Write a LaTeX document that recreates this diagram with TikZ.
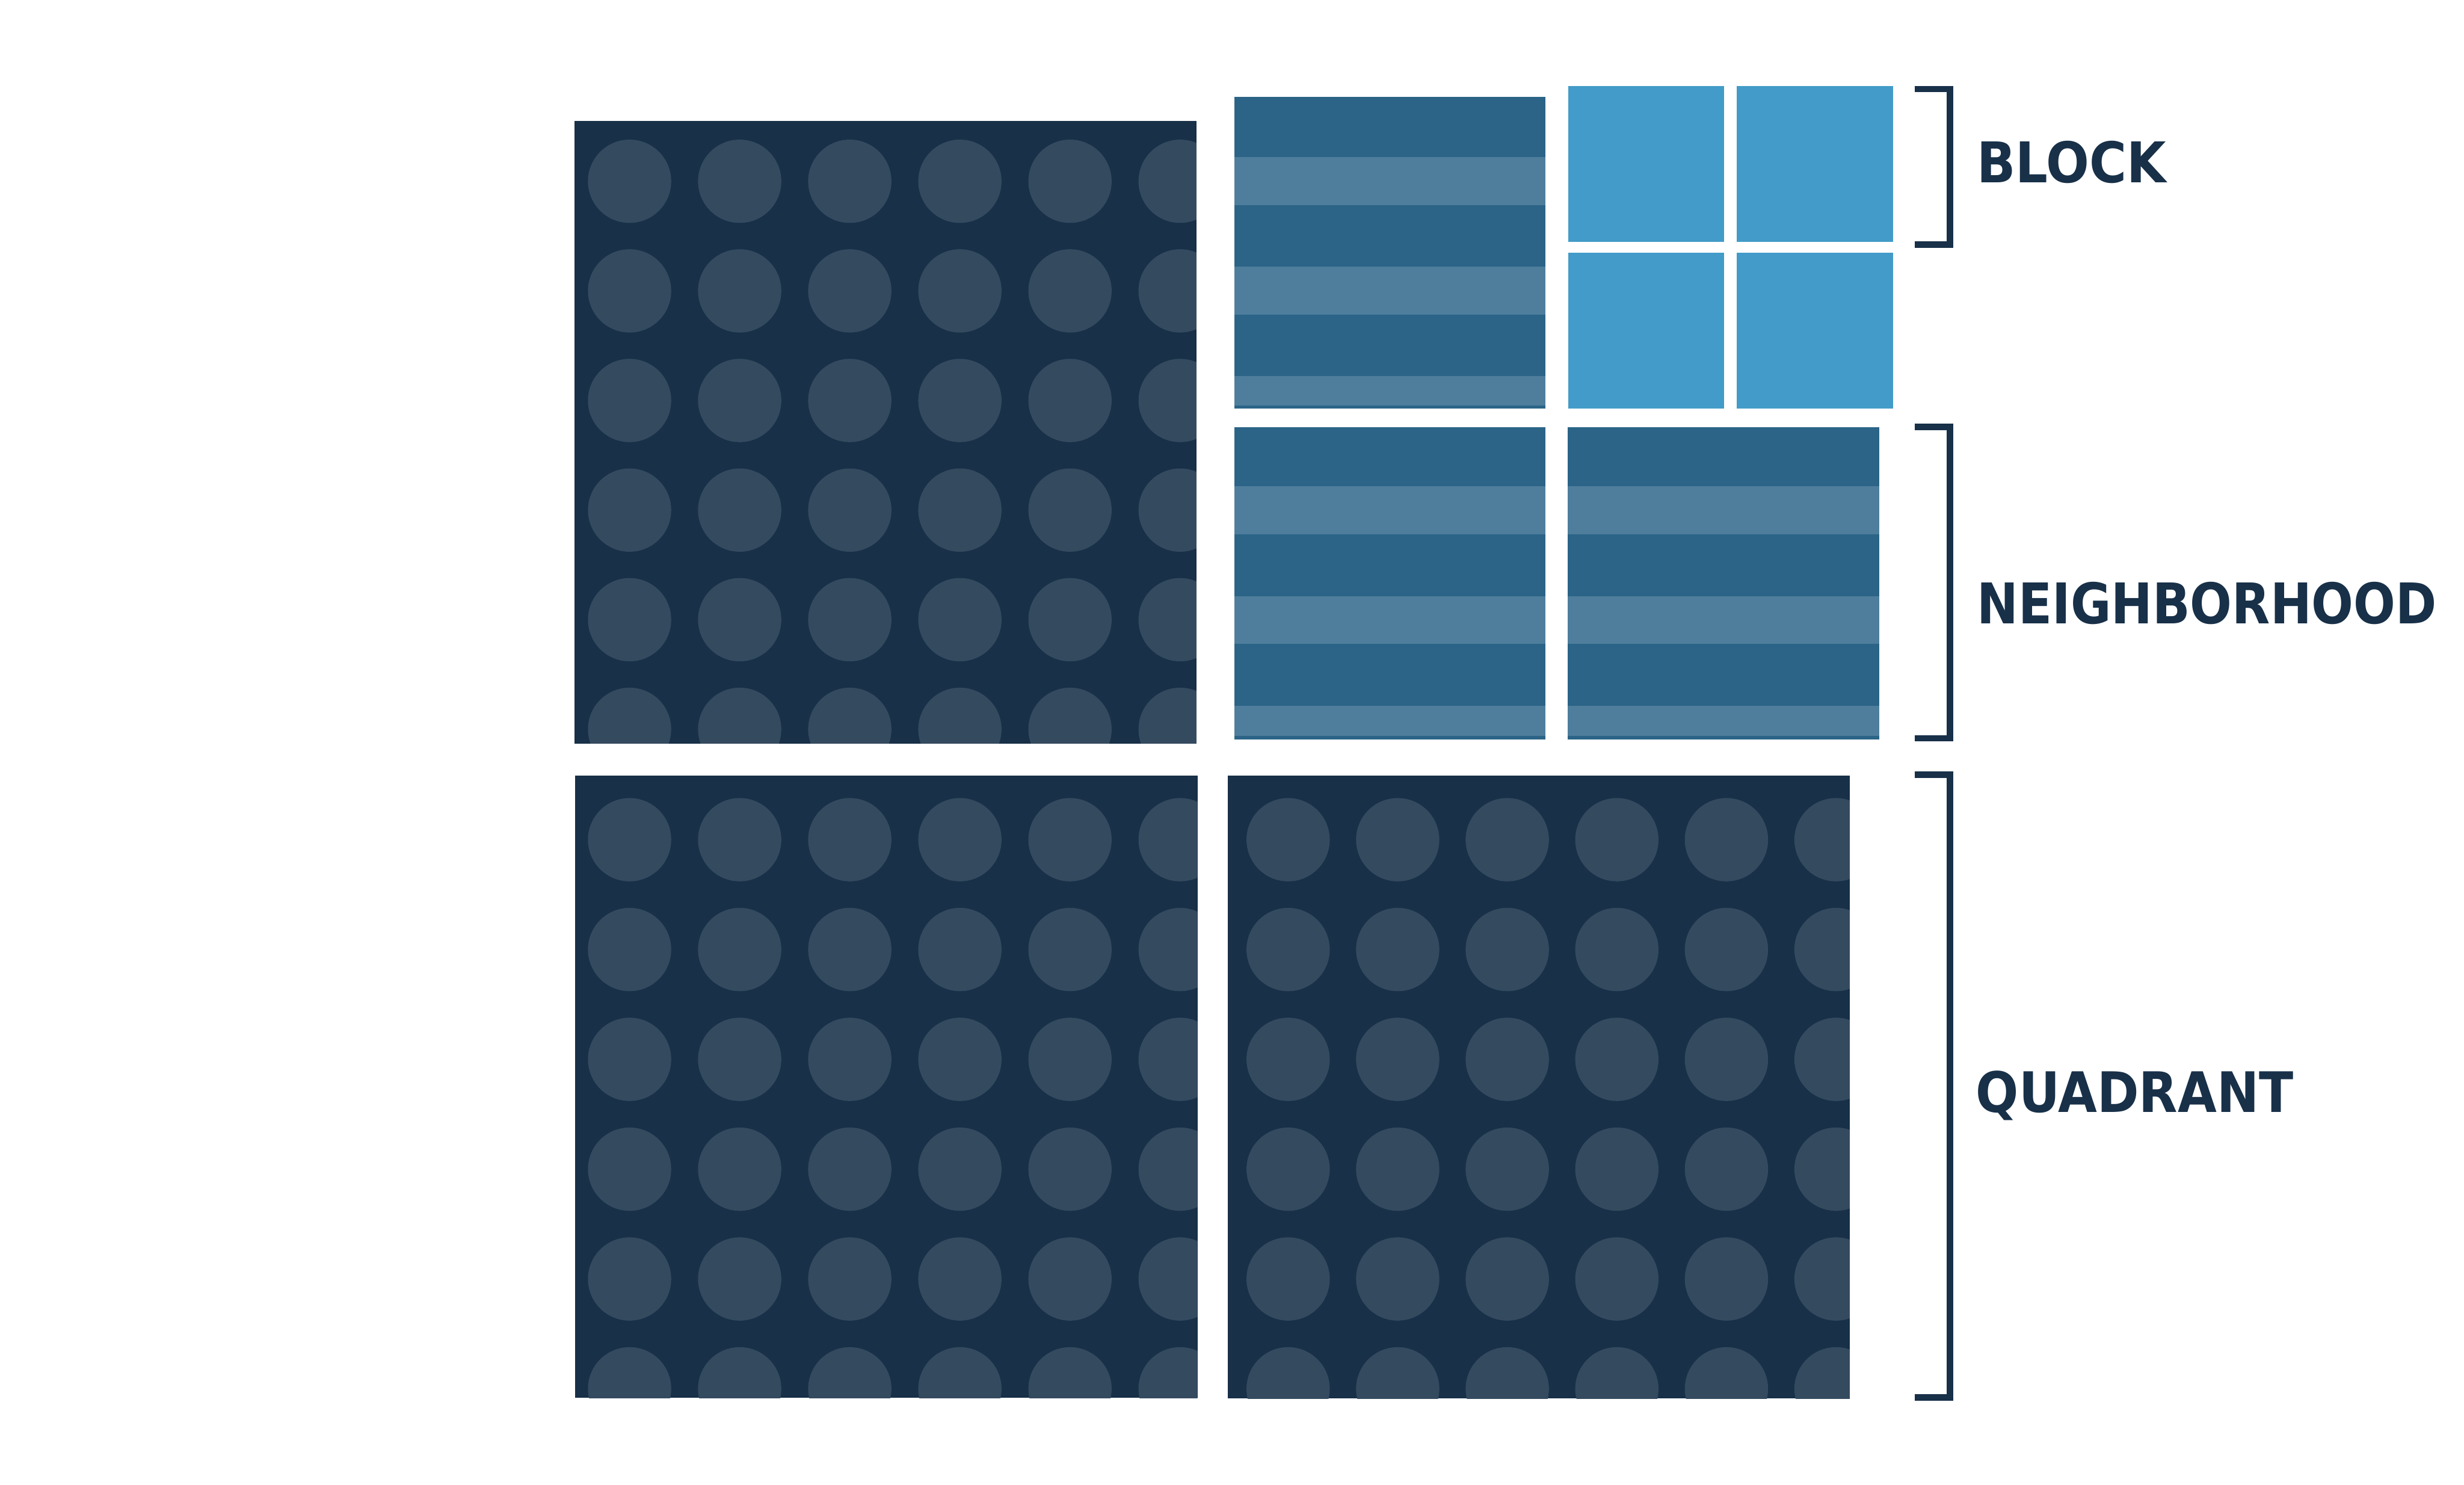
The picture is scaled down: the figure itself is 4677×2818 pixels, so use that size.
\documentclass[tikz,border=0pt]{standalone}
\usepackage{fontspec}
\setmainfont{DejaVu Sans}
\definecolor{navy}{HTML}{183048}
\definecolor{dotc}{HTML}{344A5F}
\definecolor{stripedark}{HTML}{2B6487}
\definecolor{stripelight}{HTML}{4E7E9C}
\definecolor{blockblue}{HTML}{429BC8}
\newcommand{\dotquad}[8]{%
  \begin{scope}
    \fill[navy] (#1,#2) rectangle (#3,#4);
    \clip (#1,#2) rectangle (#3,#4);
    \foreach \i in {0,...,5}{\foreach \j in {0,...,5}{%
      \fill[dotc] ({#5+\i*#7},{#6+\j*#8}) circle[radius=0.79cm];}}
  \end{scope}}
\newcommand{\stripebox}[5]{%
  \fill[stripedark] (#1,#2) rectangle (#3,#4);
  \foreach \a/\b in {#5}{\fill[stripelight] (#1,\a) rectangle (#3,\b);}}
\tikzset{
  bracketline/.style={draw=navy, line width=0.12cm, line join=miter, line cap=butt},
  labeltext/.style={text=navy, inner sep=0pt, anchor=base west}
}
\begin{document}
\begin{tikzpicture}[x=0.01cm,y=-0.01cm]
\useasboundingbox (0,0) rectangle (4677,2818);
\fill[white] (0,0) rectangle (4677,2818);

% quadrants with dots
\dotquad{1090}{229}{2271}{1411}{1195}{344}{209}{208}
\dotquad{1092}{1472}{2273}{2653}{1195}{1593.5}{209}{208.4}
\dotquad{2330}{1472}{3511}{2654}{2445}{1593.5}{208}{208.4}

% striped neighborhoods
\stripebox{2343}{184}{2933}{775}{298/389,506/597,714/770}
\stripebox{2343}{811}{2933}{1403}{923/1014,1131/1222,1339/1397}
\stripebox{2976}{811}{3567}{1403}{923/1014,1131/1222,1339/1397}

% blocks
\fill[blockblue] (2977,163) rectangle (3272,459);
\fill[blockblue] (3297,163) rectangle (3593,459);
\fill[blockblue] (2977,480) rectangle (3272,775);
\fill[blockblue] (3297,480) rectangle (3593,775);

% brackets
\coordinate (b1a) at (3634,169);  \coordinate (b1b) at (3701,169);
\coordinate (b1c) at (3701,464);  \coordinate (b1d) at (3634,464);
\draw[bracketline] (b1a) -- (b1b) -- (b1c) -- (b1d);
\coordinate (b2a) at (3634,810);  \coordinate (b2b) at (3701,810);
\coordinate (b2c) at (3701,1401); \coordinate (b2d) at (3634,1401);
\draw[bracketline] (b2a) -- (b2b) -- (b2c) -- (b2d);
\coordinate (b3a) at (3634,1470); \coordinate (b3b) at (3701,1470);
\coordinate (b3c) at (3701,2652); \coordinate (b3d) at (3634,2652);
\draw[bracketline] (b3a) -- (b3b) -- (b3c) -- (b3d);

% labels
\node[labeltext] (lblock) at (3752,347) {\resizebox{3.59cm}{0.79cm}{\bfseries BLOCK}};
\node[labeltext] (lneigh) at (3752,1183) {\resizebox{8.72cm}{0.79cm}{\bfseries NEIGHBORHOOD}};
\node[labeltext] (lquad) at (3750,2111) {\resizebox{6.02cm}{0.785cm}{\bfseries QUADRANT}};
\end{tikzpicture}
\end{document}
